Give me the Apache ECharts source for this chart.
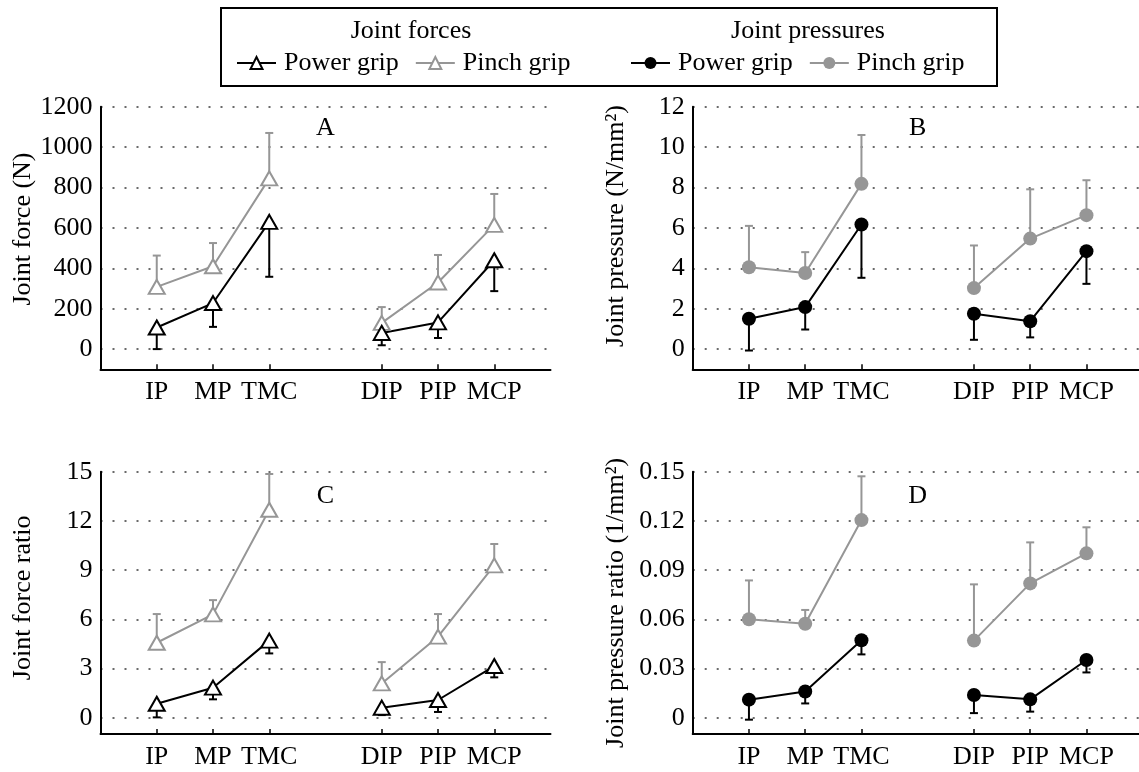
<!DOCTYPE html>
<html><head><meta charset="utf-8">
<script src="https://cdn.jsdelivr.net/npm/echarts@6/dist/echarts.min.js"></script>
<style>html,body{margin:0;padding:0;background:#fff}#c{width:1139px;height:772px}</style>
</head><body><div id="c"></div>
<script>
// ---------- data ----------
const thumbJoints = ['IP', 'MP', 'TMC'];
const fingerJoints = ['DIP', 'PIP', 'MCP'];

// A: joint force (N)
const forcePower      = [107, 228, 630, 80, 132, 440];
const forcePowerLow   = [0, 110, 358, 19, 55, 287];
const forcePinch      = [308, 410, 845, 130, 330, 615];
const forcePinchHigh  = [463, 525, 1070, 208, 466, 768];

// B: joint pressure (N/mm2)
const pressPower      = [1.50, 2.08, 6.17, 1.75, 1.38, 4.85];
const pressPowerLow   = [-0.07, 0.97, 3.53, 0.46, 0.58, 3.23];
const pressPinch      = [4.05, 3.77, 8.18, 3.02, 5.47, 6.63];
const pressPinchHigh  = [6.10, 4.80, 10.60, 5.13, 7.91, 8.36];

// C: joint force ratio
const fRatioPower     = [0.85, 1.83, 4.70, 0.61, 1.08, 3.15];
const fRatioPowerLow  = [0.02, 1.12, 3.92, 0.16, 0.35, 2.46];
const fRatioPinch     = [4.57, 6.30, 12.68, 2.09, 4.94, 9.29];
const fRatioPinchHigh = [6.32, 7.17, 14.86, 3.39, 6.32, 10.59];

// D: joint pressure ratio (1/mm2)
const pRatioPower     = [0.0110, 0.0160, 0.0472, 0.0138, 0.0112, 0.0352];
const pRatioPowerLow  = [-0.0012, 0.0087, 0.0386, 0.0028, 0.0037, 0.0276];
const pRatioPinch     = [0.0600, 0.0573, 0.1205, 0.0470, 0.0819, 0.1002];
const pRatioPinchHigh = [0.0837, 0.0657, 0.1472, 0.0813, 0.1069, 0.1161];

// axis tick settings
const yTicksA = { min: -100, max: 1200, step: 100, labelEvery: 200 };
const yTicksB = { min: -1, max: 12, step: 1, labelEvery: 2 };
const yTicksC = { min: -1, max: 15, step: 1, labelEvery: 3 };
const yTicksD = { min: -0.01, max: 0.15, step: 0.01, labelEvery: 0.03 };

// ---------- styling / layout ----------
const FONT = '"Liberation Serif", "Times New Roman", Times, serif';
const BLACK = '#000000';
const GRAY = '#969696';
const GRID_DOT = '#3a3a3a';
const FS = 26;

const xCats = ['_a', ...thumbJoints, '_b', ...fingerJoints, '_c'];
const jointPos = [];
xCats.forEach((c, i) => { if (!c.startsWith('_')) jointPos.push(i); });

function pad(arr) {
  const out = xCats.map(() => null);
  jointPos.forEach((p, i) => { out[p] = arr[i]; });
  return out;
}
function errData(vals, ends) {
  return jointPos.map((p, i) => [p, vals[i], ends[i]]);
}

const grids = [
  { left: 100.5, top: 106.7, width: 450, height: 262.6 },
  { left: 692.7, top: 106.7, width: 450, height: 262.6 },
  { left: 100.5, top: 471.7, width: 450, height: 262.4 },
  { left: 692.7, top: 471.7, width: 450, height: 262.4 }
];

function renderErr(params, api) {
  const x = api.value(0), v = api.value(1), e = api.value(2);
  const p0 = api.coord([x, v]);
  const p1 = api.coord([x, e]);
  const color = api.visual('color');
  return {
    type: 'group',
    children: [
      { type: 'line', shape: { x1: p0[0], y1: p0[1], x2: p1[0], y2: p1[1] }, style: { stroke: color, lineWidth: 2 } },
      { type: 'line', shape: { x1: p1[0] - 4, y1: p1[1], x2: p1[0] + 4, y2: p1[1] }, style: { stroke: color, lineWidth: 2 } }
    ]
  };
}

function makeX(gi) {
  return {
    type: 'category', gridIndex: gi, data: xCats, boundaryGap: false,
    axisLine: { show: true, onZero: false, lineStyle: { color: BLACK, width: 2 } },
    axisTick: { show: true, inside: true, length: 5, interval: (i, v) => !String(v).startsWith('_'), lineStyle: { color: BLACK, width: 1.5 } },
    axisLabel: { interval: 0, margin: 10, color: BLACK, fontFamily: FONT, fontSize: FS,
      formatter: v => (String(v).startsWith('_') ? '' : v) },
    splitLine: { show: false }
  };
}

function makeY(gi, t, name, shift, fmt) {
  const period = Math.round(t.labelEvery / t.step);
  const colors = [];
  for (let k = 0; k < period; k++) colors.push('transparent');
  const zeroIdx = Math.round(-t.min / t.step);
  colors[zeroIdx % period] = GRID_DOT;
  return {
    type: 'value', gridIndex: gi, min: t.min, max: t.max, interval: t.step,
    name: name, nameLocation: 'middle', nameGap: 64,
    nameTextStyle: { color: BLACK, fontFamily: FONT, fontSize: FS,
      padding: shift >= 0 ? [0, 0, 0, 2 * shift] : [0, -2 * shift, 0, 0] },
    axisLine: { show: true, lineStyle: { color: BLACK, width: 2 } },
    axisTick: { show: false },
    axisLabel: { margin: 8, color: BLACK, fontFamily: FONT, fontSize: FS,
      formatter: v => {
        if (v < -1e-9) return '';
        if (Math.abs(Math.round(v / t.labelEvery) * t.labelEvery - v) > t.step / 10) return '';
        return fmt(v);
      } },
    splitLine: { show: true, lineStyle: { color: colors, width: 1.6, type: [2, 10] } }
  };
}

const intFmt = v => String(Math.round(v));
const dFmt = v => (Math.abs(v) < 1e-9 ? '0' : v.toFixed(2));

const xAxes = [0, 1, 2, 3].map(makeX);
const yAxes = [
  makeY(0, yTicksA, 'Joint force (N)', 9, intFmt),
  makeY(1, yTicksB, 'Joint pressure (N/mm²)', 12, intFmt),
  makeY(2, yTicksC, 'Joint force ratio', 5, intFmt),
  makeY(3, yTicksD, 'Joint pressure ratio (1/mm²)', 0, dFmt)
];

const FORCE_POWER = 'Power grip';
const FORCE_PINCH = 'Pinch grip';
const PRESS_POWER = 'Power grip ';
const PRESS_PINCH = 'Pinch grip ';

function panelSeries(gi, power, powerLow, pinch, pinchHigh, kind) {
  const tri = kind === 'force';
  const mk = (name, color, vals) => ({
    type: 'line', name: name, xAxisIndex: gi, yAxisIndex: gi, data: pad(vals),
    symbol: tri ? 'triangle' : 'circle',
    symbolSize: tri ? [16, 14] : 14,
    showSymbol: true, showAllSymbol: true, connectNulls: false,
    lineStyle: { color: color, width: 2 },
    itemStyle: tri ? { color: '#ffffff', borderColor: color, borderWidth: 2 } : { color: color, borderWidth: 0 },
    emphasis: { disabled: true }, silent: true, z: 3
  });
  const err = (color, vals, ends) => ({
    type: 'custom', xAxisIndex: gi, yAxisIndex: gi, data: errData(vals, ends),
    encode: { x: 0, y: [1, 2] }, renderItem: renderErr,
    itemStyle: { color: color }, silent: true, z: 2
  });
  return [
    err(GRAY, pinch, pinchHigh),
    mk(tri ? FORCE_PINCH : PRESS_PINCH, GRAY, pinch),
    err(BLACK, power, powerLow),
    mk(tri ? FORCE_POWER : PRESS_POWER, BLACK, power)
  ];
}

const series = [].concat(
  panelSeries(0, forcePower, forcePowerLow, forcePinch, forcePinchHigh, 'force'),
  panelSeries(1, pressPower, pressPowerLow, pressPinch, pressPinchHigh, 'press'),
  panelSeries(2, fRatioPower, fRatioPowerLow, fRatioPinch, fRatioPinchHigh, 'force'),
  panelSeries(3, pRatioPower, pRatioPowerLow, pRatioPinch, pRatioPinchHigh, 'press')
);

const legendCommon = {
  orient: 'horizontal', top: 45, itemWidth: 39, itemHeight: 15, itemGap: 16,
  selectedMode: false, formatter: n => n.trim(),
  textStyle: { color: BLACK, fontFamily: FONT, fontSize: FS, padding: [0, 0, 0, 3] }
};

const letters = ['A', 'B', 'C', 'D'];
const letterY = [128, 128, 496, 496];
const graphic = [
  { type: 'rect', shape: { x: 221, y: 8, width: 776, height: 78 },
    style: { fill: 'transparent', stroke: BLACK, lineWidth: 2 }, silent: true },
  { type: 'text', style: { text: 'Joint forces', x: 411, y: 31, align: 'center', verticalAlign: 'middle',
      fill: BLACK, font: FS + 'px ' + FONT } },
  { type: 'text', style: { text: 'Joint pressures', x: 808, y: 31, align: 'center', verticalAlign: 'middle',
      fill: BLACK, font: FS + 'px ' + FONT } }
];
grids.forEach((g, i) => {
  graphic.push({ type: 'text', style: { text: letters[i], x: g.left + g.width / 2, y: letterY[i],
    align: 'center', verticalAlign: 'middle', fill: BLACK, font: FS + 'px ' + FONT } });
});

const chart = echarts.init(document.getElementById('c'), null, { renderer: 'canvas' });
chart.setOption({
  backgroundColor: '#ffffff',
  animation: false,
  textStyle: { fontFamily: FONT },
  grid: grids.map(g => Object.assign({ containLabel: false, outerBoundsMode: 'none' }, g)),
  xAxis: xAxes,
  yAxis: yAxes,
  legend: [
    Object.assign({}, legendCommon, { left: 231, data: [FORCE_POWER, FORCE_PINCH] }),
    Object.assign({}, legendCommon, { left: 625, data: [PRESS_POWER, PRESS_PINCH] })
  ],
  graphic: graphic,
  series: series
});
</script>
</body></html>
